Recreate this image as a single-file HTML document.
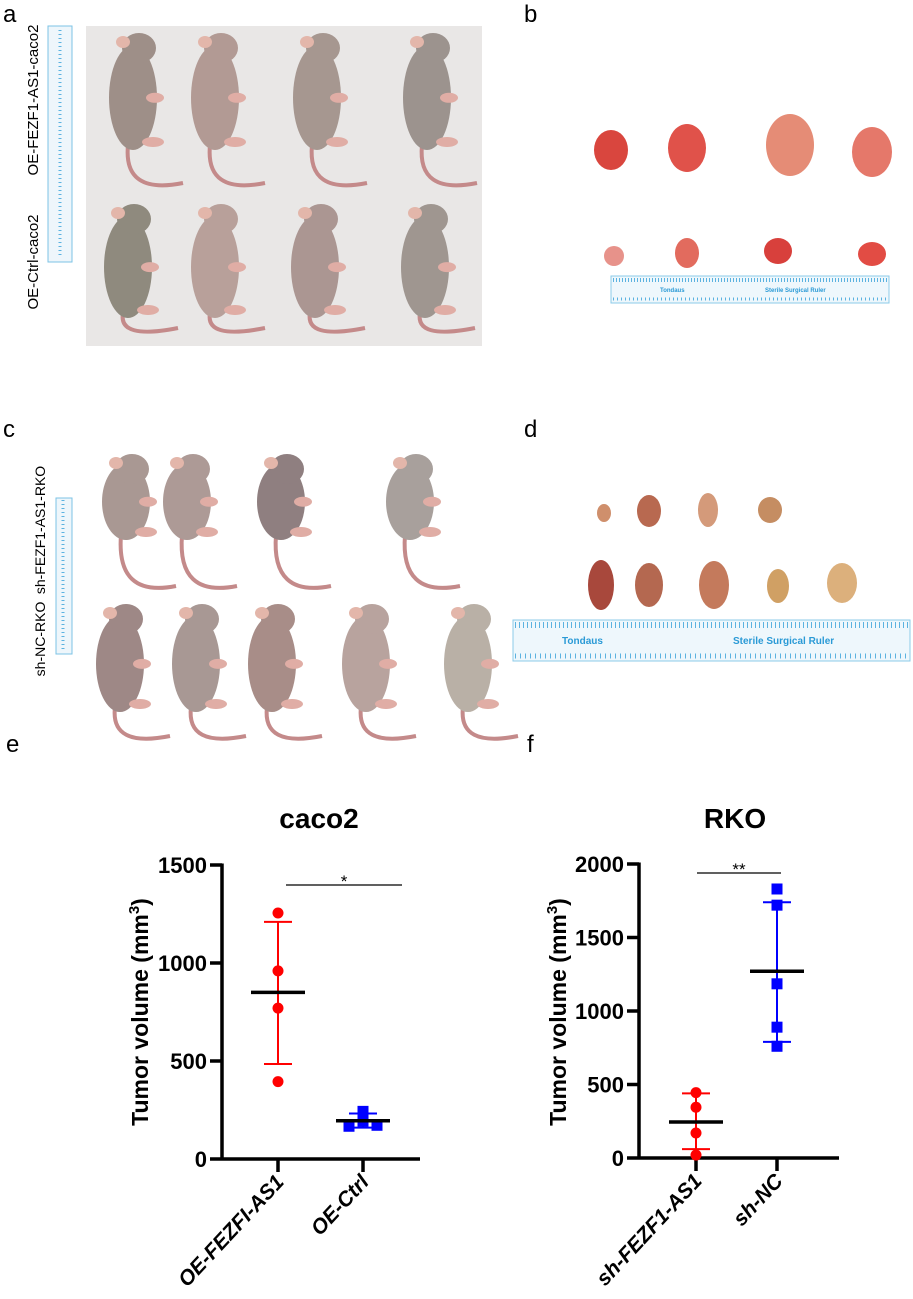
<!DOCTYPE html>
<html><head><meta charset="utf-8"><style>
body{margin:0;background:#fff;}
svg{display:block;font-family:"Liberation Sans",Arial,sans-serif;}
</style></head><body>
<svg width="913" height="1299" viewBox="0 0 913 1299">
<rect width="913" height="1299" fill="#fff"/>
<text x="3" y="22" font-size="24">a</text>
<text x="524" y="22" font-size="24">b</text>
<text x="3" y="437" font-size="24">c</text>
<text x="524" y="437" font-size="24">d</text>

<g>
<rect x="86" y="26" width="396" height="320" fill="#e9e7e6"/>
<rect x="48" y="26" width="24" height="236" fill="#eef6fb" stroke="#7cc3e6" stroke-width="1"/>
<line x1="60" y1="30" x2="60" y2="258" stroke="#5bb2e0" stroke-width="3" stroke-dasharray="1 3"/>
<g id="miceA"></g>
<text transform="translate(38,100) rotate(-90)" font-size="15" text-anchor="middle">OE-FEZF1-AS1-caco2</text>
<text transform="translate(38,262) rotate(-90)" font-size="15" text-anchor="middle">OE-Ctrl-caco2</text>
</g>

<g>
<g id="tumB"></g>
<rect x="611" y="276" width="278" height="27" fill="#eef7fc" stroke="#8ccbe9"/>
<line x1="613" y1="280" x2="887" y2="280" stroke="#5bb2e0" stroke-width="4" stroke-dasharray="1 2"/>
<line x1="613" y1="299" x2="887" y2="299" stroke="#5bb2e0" stroke-width="3" stroke-dasharray="1 3"/>
<text x="660" y="292" font-size="6" fill="#2a9ad6" font-weight="bold">Tondaus</text>
<text x="765" y="292" font-size="6" fill="#2a9ad6" font-weight="bold">Sterile Surgical Ruler</text>
</g>

<g>
<rect x="56" y="498" width="16" height="156" fill="#eef6fb" stroke="#7cc3e6"/>
<line x1="63" y1="500" x2="63" y2="652" stroke="#5bb2e0" stroke-width="3" stroke-dasharray="1 3"/>
<g id="miceC"></g>
<text transform="translate(45,530) rotate(-90)" font-size="14" text-anchor="middle">sh-FEZF1-AS1-RKO</text>
<text transform="translate(45,639) rotate(-90)" font-size="14" text-anchor="middle">sh-NC-RKO</text>
</g>

<g>
<g id="tumD"></g>
<rect x="513" y="620" width="397" height="41" fill="#eef7fc" stroke="#8ccbe9"/>
<line x1="515" y1="625" x2="908" y2="625" stroke="#5bb2e0" stroke-width="6" stroke-dasharray="1 3"/>
<line x1="515" y1="656" x2="908" y2="656" stroke="#5bb2e0" stroke-width="5" stroke-dasharray="1 4"/>
<text x="562" y="644" font-size="10" fill="#2a9ad6" font-weight="bold">Tondaus</text>
<text x="733" y="644" font-size="10" fill="#2a9ad6" font-weight="bold">Sterile Surgical Ruler</text>
</g>

<text x="6" y="752" font-size="24">e</text>
<text x="527" y="752" font-size="24">f</text>
<g id="chartE"></g>
<g id="chartF"></g>
</svg>
<script>
const caco2Categories = ["OE-FEZFI-AS1", "OE-Ctrl"];
const caco2Red = [1255, 960, 770, 395];
const caco2Blue = [243, 192, 167, 172];
const caco2Mean = [850, 195];
const caco2SdHigh = [1210, 232];
const caco2SdLow = [485, 160];
const caco2Ticks = [0, 500, 1000, 1500];

const rkoCategories = ["sh-FEZF1-AS1", "sh-NC"];
const rkoRed = [445, 345, 170, 20];
const rkoBlue = [1830, 1720, 1185, 890, 760];
const rkoMean = [245, 1270];
const rkoSdHigh = [440, 1740];
const rkoSdLow = [60, 790];
const rkoTicks = [0, 500, 1000, 1500, 2000];

const NS = "http://www.w3.org/2000/svg";
function mk(parent, tag, attrs, text) {
  const e = document.createElementNS(NS, tag);
  for (const k in attrs) e.setAttribute(k, attrs[k]);
  if (text !== undefined) e.textContent = text;
  parent.appendChild(e);
  return e;
}

function drawChart(g, cfg) {
  const y = v => cfg.y0 - (v / cfg.ymax) * (cfg.y0 - cfg.ytop);
  const x = i => cfg.cx[i];
  let t = mk(g, "text", {x: cfg.titleX, y: cfg.titleY, "font-size": 28, "font-weight": "bold", "text-anchor": "middle"}, cfg.title);
  
  
  let ya = mk(g, "line", {x1: cfg.ax, y1: y(cfg.ymax) - 1.5, x2: cfg.ax, y2: cfg.y0 + 1.5, stroke: "#000", "stroke-width": 3.5});
  
  
  let xa = mk(g, "line", {x1: cfg.ax, y1: cfg.y0, x2: cfg.axEnd, y2: cfg.y0, stroke: "#000", "stroke-width": 3.5});
  
  
  cfg.ticks.forEach(v => {
    mk(g, "line", {x1: cfg.ax - 12, y1: y(v), x2: cfg.ax, y2: y(v), stroke: "#000", "stroke-width": 3.5});
    let l = mk(g, "text", {x: cfg.ax - 15, y: y(v) + 8, "font-size": 22, "font-weight": "bold", "text-anchor": "end"}, v);
    
    
  });
  let yt = mk(g, "text", {transform: `translate(${cfg.ylx},${cfg.yly}) rotate(-90)`, "font-size": 23, "font-weight": "bold", "text-anchor": "middle"});
  
  
  yt.appendChild(document.createTextNode("Tumor volume (mm"));
  mk(yt, "tspan", {dy: -9, "font-size": 15}, "3");
  mk(yt, "tspan", {dy: 9}, ")");
  cfg.cats.forEach((c, i) => {
    mk(g, "line", {x1: x(i), y1: cfg.y0, x2: x(i), y2: cfg.y0 + 13, stroke: "#000", "stroke-width": 3.5});
    let l = mk(g, "text", {transform: `translate(${x(i) + 7},${cfg.y0 + 24}) rotate(-47)`, "font-size": 21, "font-weight": "bold", "font-style": "italic", "text-anchor": "end"}, c);
    
    
  });
  const colors = ["#ff0000", "#0000ff"];
  [cfg.red, cfg.blue].forEach((vals, i) => {
    const col = colors[i];
    mk(g, "line", {x1: x(i), y1: y(cfg.hi[i]), x2: x(i), y2: y(cfg.lo[i]), stroke: col, "stroke-width": 2});
    mk(g, "line", {x1: x(i) - 14, y1: y(cfg.hi[i]), x2: x(i) + 14, y2: y(cfg.hi[i]), stroke: col, "stroke-width": 2});
    mk(g, "line", {x1: x(i) - 14, y1: y(cfg.lo[i]), x2: x(i) + 14, y2: y(cfg.lo[i]), stroke: col, "stroke-width": 2});
    vals.forEach((v, j) => {
      let off = 0;
      if (i === 1 && cfg.spreadBlue) off = [0, 0, -14, 14][j] || 0;
      let m;
      if (i === 0) m = mk(g, "circle", {cx: x(i) + off, cy: y(v), r: 5.5, fill: col});
      else m = mk(g, "rect", {x: x(i) + off - 5.5, y: y(v) - 5.5, width: 11, height: 11, fill: col});
      
      
    });
    let ml = mk(g, "line", {x1: x(i) - 27, y1: y(cfg.mean[i]), x2: x(i) + 27, y2: y(cfg.mean[i]), stroke: "#000", "stroke-width": 3.5});
    
    
  });
  mk(g, "line", {x1: cfg.sig[0], y1: cfg.sig[2], x2: cfg.sig[1], y2: cfg.sig[2], stroke: "#000", "stroke-width": 1.3});
  let s = mk(g, "text", {x: (cfg.sig[0] + cfg.sig[1]) / 2, y: cfg.sig[2] + 2, "font-size": 17, "text-anchor": "middle"}, cfg.star);
  
  
}

drawChart(document.getElementById("chartE"), {
  title: "caco2", titleX: 319, titleY: 828, ax: 222, axEnd: 420, y0: 1159, ytop: 865, ymax: 1500,
  ticks: caco2Ticks, cats: caco2Categories, cx: [278, 363], red: caco2Red, blue: caco2Blue,
  mean: caco2Mean, hi: caco2SdHigh, lo: caco2SdLow, ylx: 148, yly: 1012, sig: [286, 402, 885], star: "*", spreadBlue: true
});
drawChart(document.getElementById("chartF"), {
  title: "RKO", titleX: 735, titleY: 828, ax: 639, axEnd: 839, y0: 1158, ytop: 864, ymax: 2000,
  ticks: rkoTicks, cats: rkoCategories, cx: [696, 777], red: rkoRed, blue: rkoBlue,
  mean: rkoMean, hi: rkoSdHigh, lo: rkoSdLow, ylx: 566, yly: 1012, sig: [697, 781, 873], star: "**", spreadBlue: false
});

function mouse(g, cx, top, bot, tailEnd, col) {
  const m = mk(g, "g", {});
  
  
  const h = bot - top;
  mk(m, "path", {d: `M${cx - 5},${bot - 5} Q${cx - 10},${tailEnd} ${cx + 50},${tailEnd - 12}`, stroke: "#c48a8a", "stroke-width": 4, fill: "none"});
  mk(m, "ellipse", {cx: cx, cy: top + h * 0.55, rx: 24, ry: h * 0.45, fill: col});
  mk(m, "ellipse", {cx: cx + 6, cy: top + 14, rx: 17, ry: 15, fill: col});
  mk(m, "ellipse", {cx: cx - 10, cy: top + 8, rx: 7, ry: 6, fill: "#e3b6aa"});
  mk(m, "ellipse", {cx: cx + 22, cy: top + h * 0.55, rx: 9, ry: 5, fill: "#e0ada5"});
  mk(m, "ellipse", {cx: cx + 20, cy: bot - 8, rx: 11, ry: 5, fill: "#e0ada5"});
}
const mA = document.getElementById("miceA");
[[133, "#9e8f88"], [215, "#b29a94"], [317, "#a69790"], [427, "#9c938e"]].forEach(([c, col]) => mouse(mA, c, 34, 150, 195, col));
[[128, "#8f8a7e"], [215, "#b8a09a"], [315, "#ab9692"], [425, "#9f9690"]].forEach(([c, col]) => mouse(mA, c, 205, 318, 340, col));
const mC = document.getElementById("miceC");
[[126, "#a99893"], [187, "#ad9a96"], [281, "#8f7f80"], [410, "#a8a09c"]].forEach(([c, col]) => mouse(mC, c, 455, 540, 598, col));
[[120, "#9e8886"], [196, "#a89894"], [272, "#a88d88"], [366, "#b8a39e"], [468, "#b9b0a6"]].forEach(([c, col]) => mouse(mC, c, 605, 712, 748, col));

function tumor(g, cx, cy, rx, ry, col) {
  const e = mk(g, "ellipse", {cx: cx, cy: cy, rx: rx, ry: ry, fill: col});
  
  
}
const tB = document.getElementById("tumB");
[[611, 150, 17, 20, "#d9463e"], [687, 148, 19, 24, "#e0524a"], [790, 145, 24, 31, "#e58c76"], [872, 152, 20, 25, "#e5786a"]].forEach(a => tumor(tB, ...a));
[[614, 256, 10, 10, "#e7928a"], [687, 253, 12, 15, "#e26b5e"], [778, 251, 14, 13, "#d8403c"], [872, 254, 14, 12, "#e24c44"]].forEach(a => tumor(tB, ...a));
const tD = document.getElementById("tumD");
[[604, 513, 7, 9, "#cf8f6c"], [649, 511, 12, 16, "#b86950"], [708, 510, 10, 17, "#d49a7a"], [770, 510, 12, 13, "#c58d62"]].forEach(a => tumor(tD, ...a));
[[601, 585, 13, 25, "#a8483c"], [649, 585, 14, 22, "#b46850"], [714, 585, 15, 24, "#c47a5c"], [778, 586, 11, 17, "#d0a064"], [842, 583, 15, 20, "#dcb07c"]].forEach(a => tumor(tD, ...a));
</script>
</body></html>
